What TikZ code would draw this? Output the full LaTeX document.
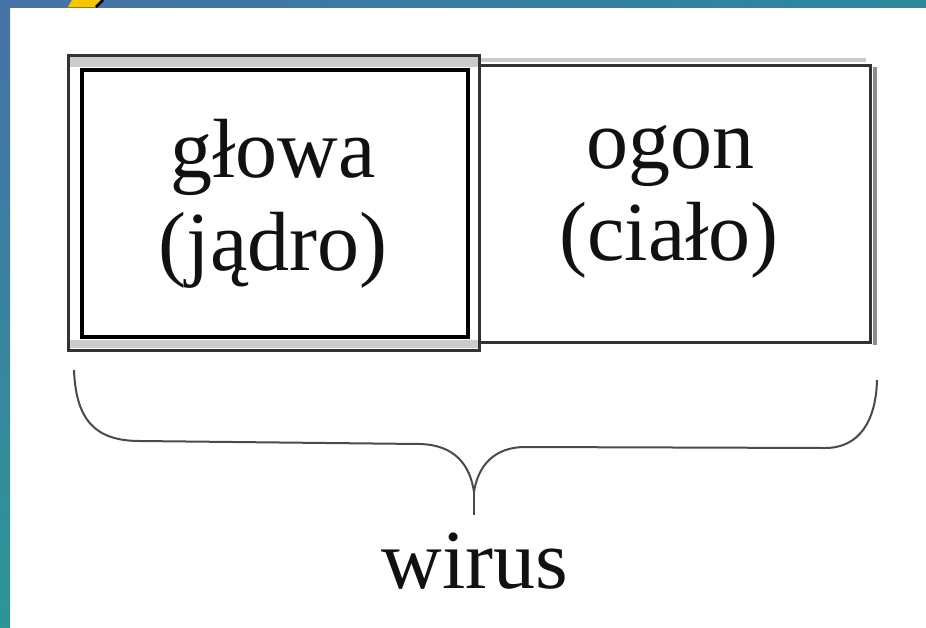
\documentclass[tikz,border=0pt]{standalone}
\usepackage{fontspec}
\setmainfont{Liberation Serif}
\definecolor{barA}{HTML}{4672A9}
\definecolor{barB}{HTML}{2A8A9C}
\definecolor{barC}{HTML}{2A9696}
\definecolor{sunY}{HTML}{F7C600}
\definecolor{frameD}{HTML}{333333}
\definecolor{bandL}{HTML}{CCCCCC}
\definecolor{braceC}{HTML}{4A4A4A}
\definecolor{txtC}{HTML}{111111}
\begin{document}
\begin{tikzpicture}[x=1pt,y=-1pt,
  lbl/.style={anchor=base,font=\fontsize{84}{91}\selectfont,inner sep=0pt,text=txtC},
  boxbase/.style={rectangle,inner sep=0pt,outer sep=0pt},
  tailbox/.style={boxbase,draw=frameD,line width=3pt,minimum width=401pt,minimum height=277pt},
  framebox/.style={boxbase,draw=frameD,line width=3pt,fill=white,minimum width=411pt,minimum height=295pt},
  headbox/.style={boxbase,draw=black,line width=4pt,minimum width=386pt,minimum height=267pt},
  bracestyle/.style={draw=braceC,line width=2pt,line join=round}]
\useasboundingbox (0,0) rectangle (926,627);
\fill[white] (0,0) rectangle (926,627);
% blue frame strips
\shade[left color=barA,right color=barB] (0,0) rectangle (926,7);
\shade[top color=barA,bottom color=barC] (0,0) rectangle (10,627);
% yellow corner shape
\fill[sunY] (72,0) -- (68,7) -- (96,7) -- (103,0) -- cycle;
\draw[black,line width=2.5pt] (103,0) -- (96,7);
% right box (ogon)
\draw[bandL,line width=4pt] (472,60) -- (866,60);
\draw[black!45,line width=4pt] (875,67) -- (875,345);
\node[tailbox] (tail) at (669.5,203.5) {};
% left box (glowa): outer frame + inner thick box
\node[framebox] (frame) at (273.5,202.5) {};
\fill[bandL] (70,57) rectangle (478,67);
\fill[bandL] (70,340) rectangle (478,348);
\node[headbox] (head) at (275,203) {};
% texts
\node[lbl] (t1) at (273,177) {głowa};
\node[lbl] (t2) at (273,270) {(jądro)};
\node[lbl] (t3) at (670,168) {ogon};
\node[lbl] (t4) at (669,260) {(ciało)};
% brace
\coordinate (bl) at (74,370);
\coordinate (br) at (877,380);
\coordinate (tip) at (474,492);
\coordinate (tipend) at (474,515);
\path[bracestyle] (bl) .. controls (76,420) and (95,441) .. (140,441)
  -- (420,444) .. controls (455,445) and (470,465) .. (tip)
  .. controls (478,465) and (495,447) .. (525,447)
  -- (825,448) .. controls (860,448) and (876,420) .. (br);
\path[bracestyle] (tip) -- (tipend);
\node[lbl] (w) at (475,588) {wirus};
\end{tikzpicture}
\end{document}
